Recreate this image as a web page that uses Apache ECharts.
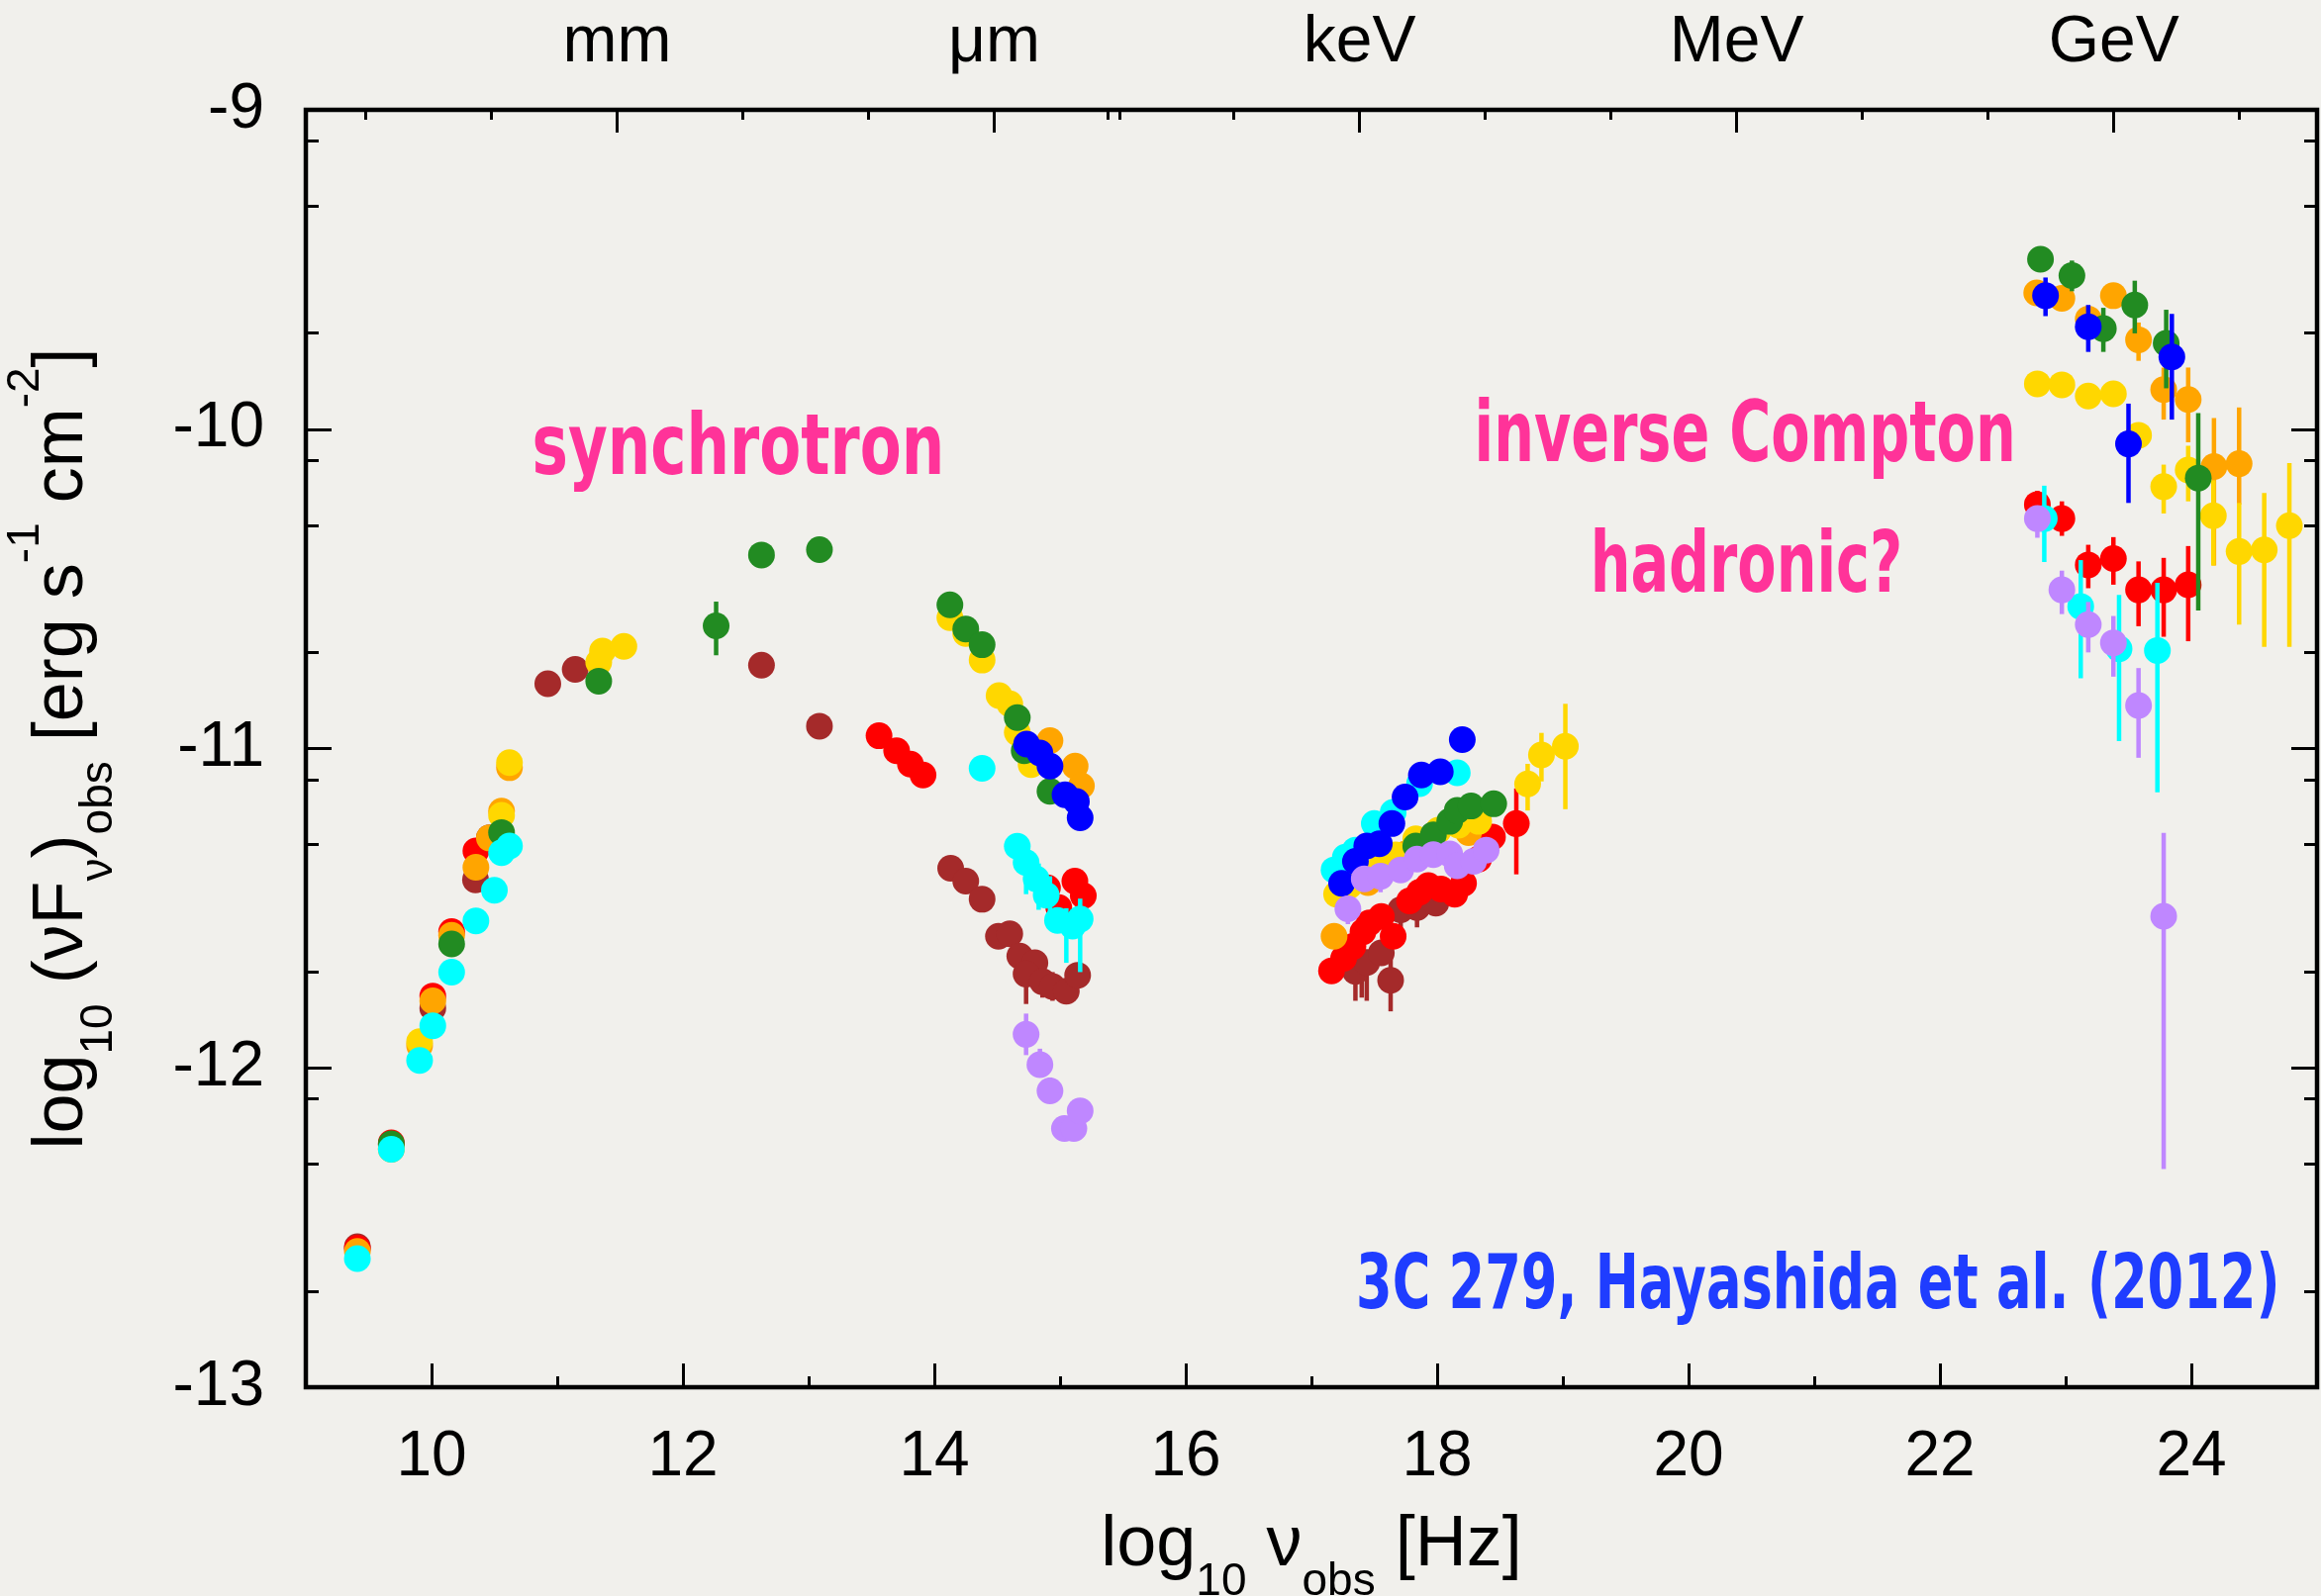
<!DOCTYPE html>
<html>
<head>
<meta charset="utf-8">
<script src="https://cdn.jsdelivr.net/npm/echarts@6/dist/echarts.min.js"></script>
<style>
  html, body { margin: 0; padding: 0; background: #f1f0ec; }
  #chart { width: 2345px; height: 1613px; }
</style>
</head>
<body>
<div id="chart"></div>
<script>
// 3C 279 multi-epoch SED: log10(nu) [Hz] vs log10(nu F_nu) [erg s^-1 cm^-2]

// ---- axis ticks ----
const xMajorTicks = [10, 12, 14, 16, 18, 20, 22, 24];
const xMinorTicks = [11, 13, 15, 17, 19, 21, 23];
const yMajorTicks = [-13, -12, -11, -10, -9];
const yMinorTicks = [-12.699, -12.301, -12.097, -11.699, -11.301, -11.097,
                     -10.699, -10.301, -10.097, -9.699, -9.301, -9.097];
// upper axis: wavelength / photon energy markers (in log10 Hz)
const topMajorTicks = [11.4768, 14.4768, 17.3835, 20.3835, 23.3835];
const topMajorLabels = ['mm', 'μm', 'keV', 'MeV', 'GeV'];
const topMinorTicks = [9.4768, 10.4768, 12.4768, 13.4768, 15.4768,
                       15.3835, 16.3835, 18.3835, 19.3835, 21.3835, 22.3835, 24.3835];

// ---- data: [log10 nu, log10 nuFnu] and error bars [log10 nu, low, high] ----
const brownPts = [
  [9.41, -12.56], [9.68, -12.24], [10.01, -11.813], [10.35, -11.411], [10.46, -11.28],
  [10.925, -10.797], [11.143, -10.752], [12.625, -10.739], [13.086, -10.93],
  [14.13, -11.375], [14.25, -11.415], [14.38, -11.472], [14.51, -11.588], [14.60, -11.58],
  [14.68, -11.65], [14.80, -11.671], [14.73, -11.706], [14.86, -11.73], [14.94, -11.745],
  [15.05, -11.76], [15.14, -11.71],
  [17.35, -11.698], [17.44, -11.67], [17.556, -11.64], [17.63, -11.726], [17.71, -11.505],
  [17.84, -11.498], [17.99, -11.484]
];
const brownErr = [
  [11.143, -10.73, -10.775],
  [14.73, -11.66, -11.80], [14.86, -11.69, -11.78], [14.94, -11.70, -11.79], [15.05, -11.72, -11.80],
  [17.35, -11.66, -11.79], [17.40, -11.66, -11.78], [17.44, -11.63, -11.79], [17.63, -11.65, -11.823],
  [17.71, -11.46, -11.587], [17.84, -11.46, -11.56]
];

const redPts = [
  [9.41, -12.565], [9.68, -12.235], [10.01, -11.775], [10.16, -11.573], [10.353, -11.321],
  [13.56, -10.96], [13.70, -11.007], [13.81, -11.049], [13.91, -11.083],
  [14.90, -11.436], [14.99, -11.498], [15.118, -11.415], [15.185, -11.461],
  [17.16, -11.696], [17.256, -11.657], [17.33, -11.62], [17.41, -11.574], [17.46, -11.546],
  [17.556, -11.526], [17.65, -11.588], [17.78, -11.477], [17.86, -11.45], [17.93, -11.429],
  [18.03, -11.44], [18.14, -11.456], [18.21, -11.422], [18.33, -11.346], [18.44, -11.277],
  [18.63, -11.235],
  [22.775, -10.236], [22.97, -10.28], [23.18, -10.425], [23.38, -10.405], [23.58, -10.503],
  [23.78, -10.503], [23.975, -10.487]
];
const redErr = [
  [18.63, -11.125, -11.394], [18.44, -11.24, -11.32],
  [22.775, -10.193, -10.285], [22.97, -10.226, -10.334], [23.18, -10.362, -10.498],
  [23.38, -10.338, -10.487], [23.58, -10.414, -10.617], [23.78, -10.403, -10.65],
  [23.975, -10.366, -10.664]
];

const orangePts = [
  [9.41, -12.575], [9.68, -12.255], [9.905, -11.93], [10.01, -11.79], [10.16, -11.585],
  [10.353, -11.372], [10.46, -11.28], [10.557, -11.196], [10.62, -11.06],
  [14.92, -10.975], [15.12, -11.055], [15.17, -11.117],
  [17.18, -11.588], [17.45, -11.42], [17.75, -11.33], [18.25, -11.263],
  [22.77, -9.573], [22.97, -9.59], [23.18, -9.655], [23.38, -9.582], [23.58, -9.72],
  [23.78, -9.876], [23.975, -9.907], [24.18, -10.117], [24.38, -10.108]
];
const orangeErr = [
  [23.58, -9.666, -9.786], [23.78, -9.807, -9.97], [23.975, -9.807, -10.041],
  [24.18, -9.965, -10.427], [24.38, -9.932, -10.236]
];

const goldPts = [
  [9.68, -12.25], [9.905, -11.918], [10.557, -11.209], [10.62, -11.044],
  [11.33, -10.73], [11.36, -10.695], [11.53, -10.68],
  [14.124, -10.59], [14.25, -10.64], [14.38, -10.723], [14.515, -10.834], [14.60, -10.86],
  [14.66, -10.95], [14.77, -11.05],
  [17.20, -11.456], [17.30, -11.43], [17.42, -11.40], [17.55, -11.37], [17.67, -11.333],
  [17.83, -11.283], [18.01, -11.256], [18.17, -11.24], [18.33, -11.228],
  [18.72, -11.111], [18.83, -11.02], [19.02, -10.993],
  [22.775, -9.858], [22.97, -9.861], [23.18, -9.896], [23.38, -9.889], [23.58, -10.019],
  [23.78, -10.18], [23.975, -10.128], [24.175, -10.271], [24.38, -10.383], [24.58, -10.378],
  [24.78, -10.302]
];
const goldErr = [
  [18.72, -11.048, -11.194], [18.83, -10.951, -11.103], [19.02, -10.86, -11.19],
  [23.78, -10.111, -10.264], [23.975, -10.052, -10.226], [24.175, -10.16, -10.427],
  [24.38, -10.231, -10.612], [24.58, -10.20, -10.682], [24.78, -10.106, -10.682]
];

const greenPts = [
  [9.68, -12.238], [10.16, -11.612], [10.557, -11.263], [11.33, -10.789],
  [12.264, -10.616], [12.625, -10.394], [13.086, -10.377],
  [14.124, -10.55], [14.25, -10.626], [14.38, -10.675], [14.66, -10.903], [14.715, -11.007],
  [14.92, -11.134],
  [17.83, -11.305], [17.97, -11.27], [18.10, -11.228], [18.16, -11.194], [18.27, -11.18],
  [18.45, -11.173],
  [22.80, -9.468], [23.05, -9.519], [23.30, -9.685], [23.55, -9.611], [23.80, -9.731],
  [24.055, -10.153]
];
const greenErr = [
  [12.264, -10.54, -10.708], [12.625, -10.38, -10.41], [13.086, -10.36, -10.40],
  [18.45, -11.14, -11.21],
  [22.80, -9.455, -9.485], [23.05, -9.472, -9.568], [23.30, -9.62, -9.758],
  [23.55, -9.535, -9.70], [23.80, -9.626, -9.872], [24.055, -9.95, -10.568]
];

const cyanPts = [
  [9.41, -12.597], [9.68, -12.255], [9.905, -11.977], [10.01, -11.868], [10.16, -11.70],
  [10.353, -11.54], [10.50, -11.444], [10.557, -11.326], [10.62, -11.305],
  [14.38, -11.062], [14.66, -11.306], [14.73, -11.357], [14.81, -11.408], [14.89, -11.459],
  [14.98, -11.538], [15.10, -11.556], [15.16, -11.534],
  [17.18, -11.38], [17.27, -11.34], [17.35, -11.318], [17.50, -11.235], [17.65, -11.20],
  [17.86, -11.11], [18.16, -11.076],
  [22.83, -10.28], [23.12, -10.555], [23.425, -10.688], [23.73, -10.693]
];
const cyanErr = [
  [14.38, -11.04, -11.09],
  [14.73, -11.32, -11.456], [14.83, -11.36, -11.505], [14.92, -11.40, -11.56],
  [15.05, -11.50, -11.671], [15.16, -11.47, -11.70],
  [22.83, -10.177, -10.416], [23.12, -10.41, -10.78], [23.425, -10.519, -10.977],
  [23.73, -10.481, -11.137]
];

const bluePts = [
  [14.734, -10.986], [14.84, -11.014], [14.92, -11.055], [15.04, -11.145], [15.13, -11.166],
  [15.16, -11.217],
  [17.24, -11.422], [17.35, -11.353], [17.44, -11.305], [17.54, -11.298], [17.64, -11.235],
  [17.745, -11.152], [17.875, -11.083], [18.025, -11.073], [18.20, -10.972],
  [22.84, -9.582], [23.18, -9.679], [23.50, -10.046], [23.845, -9.774]
];
const blueErr = [
  [18.20, -10.95, -11.00],
  [22.84, -9.525, -9.646], [23.18, -9.611, -9.758], [23.50, -9.92, -10.231],
  [23.845, -9.639, -9.97]
];

const purplePts = [
  [14.73, -11.895], [14.84, -11.99], [14.92, -12.072], [15.035, -12.19], [15.11, -12.19],
  [15.16, -12.135],
  [17.29, -11.502], [17.42, -11.408], [17.55, -11.40], [17.71, -11.38], [17.84, -11.346],
  [17.97, -11.332], [18.10, -11.33], [18.16, -11.367], [18.29, -11.353], [18.39, -11.318],
  [22.775, -10.28], [22.97, -10.503], [23.18, -10.612], [23.38, -10.669], [23.58, -10.865],
  [23.78, -11.525]
];
const purpleErr = [
  [14.73, -11.83, -11.96], [14.84, -11.94, -12.03], [14.92, -12.03, -12.10],
  [15.035, -12.16, -12.22], [15.11, -12.16, -12.22],
  [17.29, -11.47, -11.55], [17.55, -11.37, -11.45],
  [22.775, -10.24, -10.34], [22.97, -10.443, -10.579], [23.18, -10.541, -10.699],
  [23.38, -10.585, -10.775], [23.58, -10.748, -11.029], [23.78, -11.264, -12.317]
];

// ---- drawing ----
const datasets = [
  { color: '#a52a2a', pts: brownPts, err: brownErr },
  { color: '#ff0000', pts: redPts, err: redErr },
  { color: '#ffa500', pts: orangePts, err: orangeErr },
  { color: '#ffd700', pts: goldPts, err: goldErr },
  { color: '#228b22', pts: greenPts, err: greenErr },
  { color: '#00ffff', pts: cyanPts, err: cyanErr },
  { color: '#0000ff', pts: bluePts, err: blueErr },
  { color: '#bf87ff', pts: purplePts, err: purpleErr }
];

const FONT = "'Liberation Sans', Arial, Helvetica, sans-serif";
const HAND = "'Liberation Sans Narrow', 'DejaVu Sans Condensed', 'Roboto Condensed', 'Liberation Sans', sans-serif";

const series = [];
datasets.forEach((d, i) => {
  series.push({
    type: 'custom',
    xAxisIndex: 0, yAxisIndex: 0,
    z: 2 + i * 2,
    silent: true,
    data: d.err,
    encode: { x: 0, y: [1, 2] },
    renderItem: (params, api) => {
      const x = api.value(0);
      const a = api.coord([x, api.value(1)]);
      const b = api.coord([x, api.value(2)]);
      return {
        type: 'line',
        shape: { x1: a[0], y1: a[1], x2: b[0], y2: b[1] },
        style: { stroke: d.color, lineWidth: 4.5 }
      };
    }
  });
  series.push({
    type: 'scatter',
    xAxisIndex: 0, yAxisIndex: 0,
    z: 3 + i * 2,
    silent: true,
    symbol: 'circle',
    symbolSize: 27,
    itemStyle: { color: d.color, opacity: 1 },
    data: d.pts
  });
});

const tickStyle = { color: '#000', width: 3 };
function xAx(pos, ticks, len, labels, extra) {
  return Object.assign({
    type: 'value', position: pos, min: 9, max: 25, gridIndex: 0,
    axisLine: { show: false }, splitLine: { show: false },
    axisTick: { show: true, inside: true, length: len, lineStyle: tickStyle, customValues: ticks },
    axisLabel: labels ? Object.assign({ show: true, customValues: ticks, color: '#000',
      fontSize: 64, fontFamily: FONT }, labels) : { show: false }
  }, extra || {});
}
function yAx(pos, ticks, len, labels, extra) {
  return Object.assign({
    type: 'value', position: pos, min: -13, max: -9, gridIndex: 0,
    axisLine: { show: false }, splitLine: { show: false },
    axisTick: { show: true, inside: true, length: len, lineStyle: tickStyle, customValues: ticks },
    axisLabel: labels ? Object.assign({ show: true, customValues: ticks, color: '#000',
      fontSize: 64, fontFamily: FONT }, labels) : { show: false }
  }, extra || {});
}

const richTitle = {
  m: { fontSize: 72, fontFamily: FONT, color: '#000', lineHeight: 120 },
  s: { fontSize: 46, fontFamily: FONT, color: '#000', lineHeight: 52, verticalAlign: 'bottom' },
  p: { fontSize: 46, fontFamily: FONT, color: '#000', lineHeight: 52, verticalAlign: 'top' }
};

const chart = echarts.init(document.getElementById('chart'), null, { renderer: 'canvas' });
chart.setOption({
  backgroundColor: '#f1f0ec',
  animation: false,
  grid: {
    left: 309, right: 4, top: 111, bottom: 211,
    show: true, borderColor: '#000', borderWidth: 4.5, backgroundColor: 'transparent',
    outerBoundsMode: 'none', containLabel: false
  },
  xAxis: [
    xAx('bottom', xMajorTicks, 24, { margin: 39 }, {
      name: '{m|log}{s|10}{m| ν}{s|obs}{m| [Hz]}',
      nameLocation: 'middle', nameGap: 100,
      nameTextStyle: { rich: richTitle }
    }),
    xAx('bottom', xMinorTicks, 11, null),
    xAx('top', topMajorTicks, 23, {
      margin: 34, fontSize: 66,
      formatter: v => topMajorLabels[topMajorTicks.findIndex(t => Math.abs(t - v) < 1e-6)] || ''
    }),
    xAx('top', topMinorTicks, 10, null)
  ],
  yAxis: [
    yAx('left', yMajorTicks, 26, { margin: 42 }, {
      name: '{m|log}{s|10}{m| (νF}{s|ν}{m|)}{s|obs}{m| [erg s}{p|-1}{m| cm}{p|-2}{m|]}',
      nameLocation: 'middle', nameGap: 186, nameRotate: 90,
      nameTextStyle: { rich: richTitle }
    }),
    yAx('left', yMinorTicks, 13, null),
    yAx('right', yMajorTicks, 26, null),
    yAx('right', yMinorTicks, 13, null)
  ],
  series: series
});

// ---- annotations, anchored in data coordinates ----
const notes = [
  { text: 'synchrotron', at: [12.44, -10.07], color: '#ff3399', size: 86, squeeze: 0.79, align: 'center' },
  { text: 'inverse Compton', at: [20.45, -10.03], color: '#ff3399', size: 86, squeeze: 0.74, align: 'center' },
  { text: 'hadronic?', at: [20.46, -10.44], color: '#ff3399', size: 86, squeeze: 0.74, align: 'center' },
  { text: '3C 279, Hayashida et al. (2012)', at: [24.705, -12.69], color: '#1f3dff', size: 76, squeeze: 0.77, align: 'right' }
];
chart.setOption({
  graphic: notes.map(n => {
    const p = chart.convertToPixel({ xAxisIndex: 0, yAxisIndex: 0 }, n.at);
    return {
      type: 'text', x: p[0], y: p[1], scaleX: n.squeeze, z: 50, silent: true,
      style: {
        text: n.text, fill: n.color, align: n.align, verticalAlign: 'middle',
        font: 'bold ' + n.size + 'px ' + HAND
      }
    };
  })
});
</script>
</body>
</html>
